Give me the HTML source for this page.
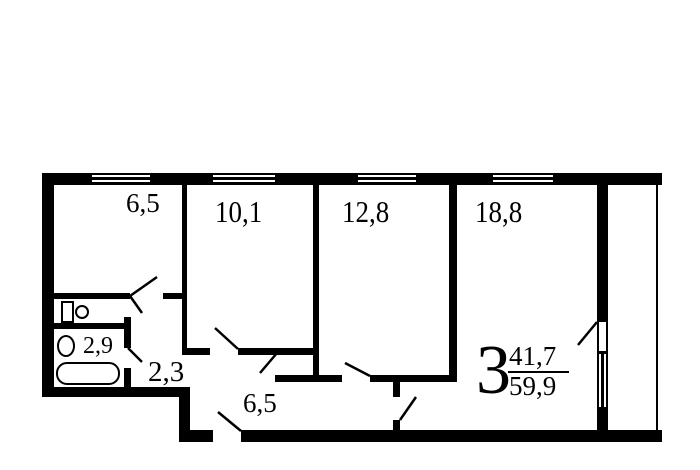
<!DOCTYPE html>
<html><head><meta charset="utf-8"><style>
html,body{margin:0;padding:0;background:#fff;}
svg{display:block;}
text{font-family:"Liberation Serif",serif;fill:#000;}
</style></head><body>
<svg width="700" height="470" viewBox="0 0 700 470" xmlns="http://www.w3.org/2000/svg">
<g fill="#000">
<rect x="42" y="173" width="620" height="12"/>
<rect x="42" y="173" width="12" height="224"/>
<rect x="42" y="387" width="148" height="10"/>
<rect x="179" y="387" width="11" height="55"/>
<rect x="179" y="430" width="34" height="12"/>
<rect x="241" y="430" width="421" height="12"/>
<rect x="182" y="185" width="5" height="170"/>
<rect x="182" y="348" width="28" height="7"/>
<rect x="238" y="348" width="81" height="7"/>
<rect x="54" y="293" width="76" height="6"/>
<rect x="163" y="293" width="19" height="6"/>
<rect x="54" y="323" width="76" height="6"/>
<rect x="124" y="317" width="7" height="31"/>
<rect x="124" y="368" width="7" height="19"/>
<rect x="313" y="185" width="6" height="197"/>
<rect x="275" y="375" width="67" height="7"/>
<rect x="449" y="185" width="8" height="197"/>
<rect x="370" y="375" width="87" height="7"/>
<rect x="393" y="382" width="7" height="15"/>
<rect x="393" y="420" width="7" height="10"/>
<rect x="597" y="173" width="11" height="269"/>
<rect x="656" y="184" width="2" height="246"/>
</g>
<g fill="#fff">
<rect x="92" y="175" width="58" height="2"/><rect x="92" y="180" width="58" height="2"/>
<rect x="213" y="175" width="62" height="2"/><rect x="213" y="180" width="62" height="2"/>
<rect x="358" y="175" width="58" height="2"/><rect x="358" y="180" width="58" height="2"/>
<rect x="493" y="175" width="60" height="2"/><rect x="493" y="180" width="60" height="2"/>
<rect x="599" y="322" width="7" height="29"/>
<rect x="599" y="354" width="2" height="53"/>
<rect x="604" y="354" width="2" height="53"/>
</g>
<g stroke="#000" stroke-width="2.5" fill="none">
<line x1="130" y1="296" x2="157" y2="277"/>
<line x1="130" y1="296" x2="142" y2="313"/>
<line x1="128" y1="348" x2="142" y2="362"/>
<line x1="215" y1="328" x2="238" y2="349"/>
<line x1="260" y1="373" x2="277" y2="353"/>
<line x1="345" y1="363" x2="370" y2="376"/>
<line x1="400" y1="420" x2="416" y2="397"/>
<line x1="218" y1="412" x2="241" y2="431"/>
<line x1="578" y1="345" x2="597" y2="322"/>
<rect x="62" y="302" width="11" height="20" stroke-width="2"/>
<circle cx="82" cy="312" r="6" stroke-width="2"/>
<ellipse cx="66" cy="346" rx="8" ry="10" stroke-width="2"/>
<rect x="57" y="363" width="62" height="21" rx="10" stroke-width="2"/>
<line x1="508" y1="372" x2="569" y2="372" stroke-width="2"/>
</g>
<text x="126" y="212" font-size="27">6,5</text>
<g transform="translate(0,222) scale(1,1.12) translate(0,-222)">
<text x="215" y="222" font-size="27">10,1</text>
<text x="342" y="222" font-size="27">12,8</text>
<text x="475" y="222" font-size="27">18,8</text>
</g>
<text x="243" y="412" font-size="27">6,5</text>
<text x="83" y="353" font-size="24">2,9</text>
<text x="148" y="381" font-size="29">2,3</text>
<text x="476" y="393" font-size="70">3</text>
<text x="509" y="365" font-size="27">41,7</text>
<text x="509" y="395" font-size="27">59,9</text>
</svg>
</body></html>
